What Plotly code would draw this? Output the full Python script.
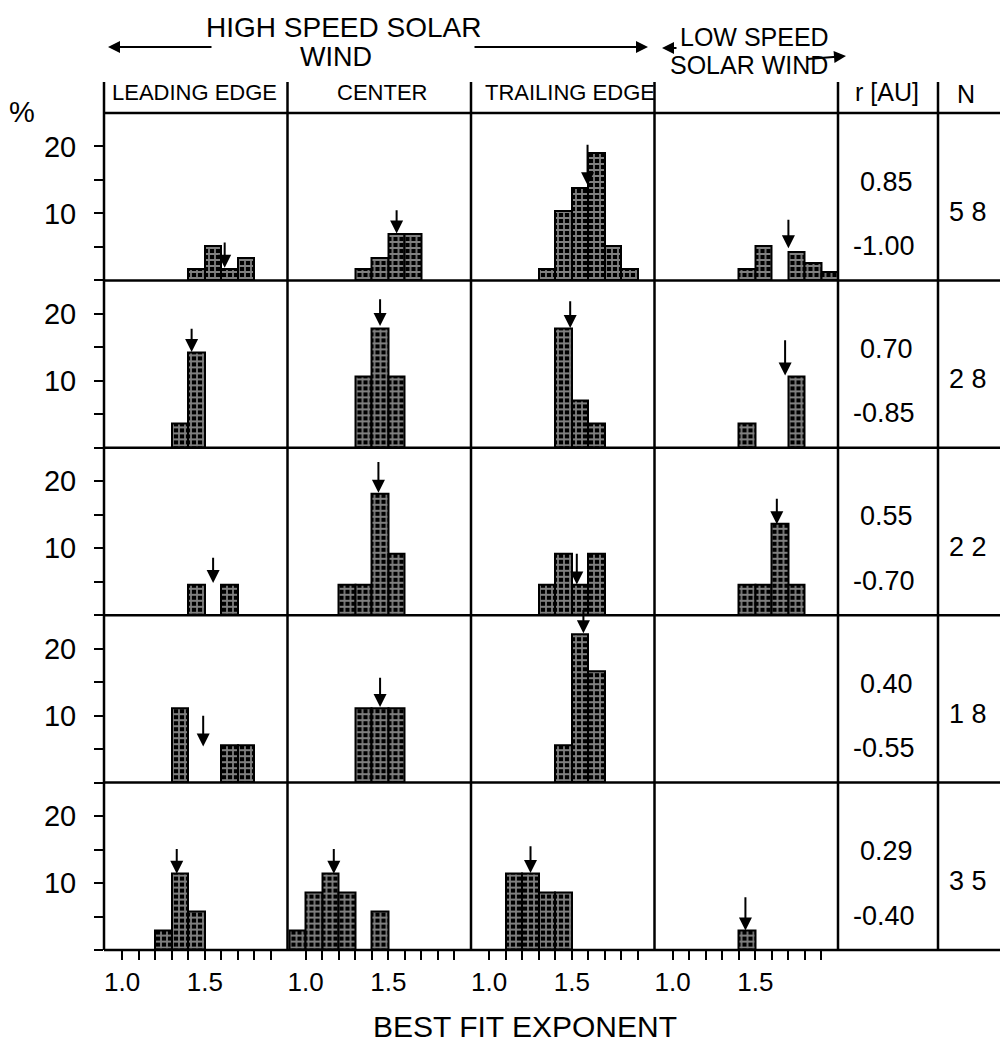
import plotly.graph_objects as go
from plotly.subplots import make_subplots

# ---------------- data ----------------
bin_left = [0.9, 1.0, 1.1, 1.2, 1.3, 1.4, 1.5, 1.6, 1.7, 1.8, 1.9]
bin_width = 0.1

column_names = ["LEADING EDGE", "CENTER", "TRAILING EDGE", ""]
r_upper = ["0.85", "0.70", "0.55", "0.40", "0.29"]
r_lower = ["-1.00", "-0.85", "-0.70", "-0.55", "-0.40"]
n_events = [58, 28, 22, 18, 35]

# percentage of cases per exponent bin
pct_r1_leading = [0, 0, 0, 0, 0, 1.7, 5.2, 1.7, 3.4, 0, 0]
pct_r1_center = [0, 0, 0, 0, 1.7, 3.4, 6.9, 6.9, 0, 0, 0]
pct_r1_trailing = [0, 0, 0, 0, 1.7, 10.3, 13.8, 19.0, 5.2, 1.7, 0]
pct_r1_low = [0, 0, 0, 0, 0, 1.7, 5.2, 0, 4.3, 2.6, 1.2]

pct_r2_leading = [0, 0, 0, 0, 3.6, 14.3, 0, 0, 0, 0, 0]
pct_r2_center = [0, 0, 0, 0, 10.7, 17.9, 10.7, 0, 0, 0, 0]
pct_r2_trailing = [0, 0, 0, 0, 0, 17.9, 7.1, 3.6, 0, 0, 0]
pct_r2_low = [0, 0, 0, 0, 0, 3.6, 0, 0, 10.7, 0, 0]

pct_r3_leading = [0, 0, 0, 0, 0, 4.5, 0, 4.5, 0, 0, 0]
pct_r3_center = [0, 0, 0, 4.5, 4.5, 18.2, 9.1, 0, 0, 0, 0]
pct_r3_trailing = [0, 0, 0, 0, 4.5, 9.1, 4.5, 9.1, 0, 0, 0]
pct_r3_low = [0, 0, 0, 0, 0, 4.5, 4.5, 13.6, 4.5, 0, 0]

pct_r4_leading = [0, 0, 0, 0, 11.1, 0, 0, 5.6, 5.6, 0, 0]
pct_r4_center = [0, 0, 0, 0, 11.1, 11.1, 11.1, 0, 0, 0, 0]
pct_r4_trailing = [0, 0, 0, 0, 0, 5.6, 22.2, 16.7, 0, 0, 0]
pct_r4_low = [0, 0, 0, 0, 0, 0, 0, 0, 0, 0, 0]

pct_r5_leading = [0, 0, 0, 2.9, 11.4, 5.7, 0, 0, 0, 0, 0]
pct_r5_center = [2.9, 8.6, 11.4, 8.6, 0, 5.7, 0, 0, 0, 0, 0]
pct_r5_trailing = [0, 0, 11.4, 11.4, 8.6, 8.6, 0, 0, 0, 0, 0]
pct_r5_low = [0, 0, 0, 0, 0, 2.9, 0, 0, 0, 0, 0]

# mean exponent arrows: x position, tip height, tail height (%)
arrow_x = [[1.62, 1.55, 1.595, 1.70],
           [1.42, 1.45, 1.49, 1.68],
           [1.55, 1.44, 1.53, 1.63],
           [1.49, 1.45, 1.57, None],
           [1.33, 1.17, 1.25, 1.44]]
arrow_tip = [[1.9, 7.0, 14.2, 4.8],
             [14.3, 18.2, 17.9, 10.8],
             [4.8, 18.3, 4.6, 13.6],
             [5.4, 11.3, 22.3, None],
             [11.4, 11.4, 11.5, 2.9]]
arrow_tail = [[5.9, 10.7, 20.5, 9.3],
              [18.0, 22.4, 22.1, 16.3],
              [8.8, 23.1, 9.4, 17.6],
              [10.2, 15.9, 26.0, None],
              [15.3, 15.3, 15.7, 8.1]]

x_tickvals = [1.0, 1.1, 1.2, 1.3, 1.4, 1.5, 1.6, 1.7, 1.8, 1.9]
x_ticktext = ["1.0", "", "", "", "", "1.5", "", "", "", ""]
y_tickvals = [0, 5, 10, 15, 20]
y_ticktext = ["", "", "10", "", "20"]

rows_data = [
    [pct_r1_leading, pct_r1_center, pct_r1_trailing, pct_r1_low],
    [pct_r2_leading, pct_r2_center, pct_r2_trailing, pct_r2_low],
    [pct_r3_leading, pct_r3_center, pct_r3_trailing, pct_r3_low],
    [pct_r4_leading, pct_r4_center, pct_r4_trailing, pct_r4_low],
    [pct_r5_leading, pct_r5_center, pct_r5_trailing, pct_r5_low],
]

# ---------------- figure ----------------
FONT = "Liberation Sans, Arial, sans-serif"
W, H = 1000, 1049
ML, MR, MT, MB = 104, 162, 113, 99
PW = W - ML - MR
PH = H - MT - MB


def px_x(px):
    return (px - ML) / PW


def px_y(py):
    return (H - MB - py) / PH


fig = make_subplots(rows=5, cols=4, horizontal_spacing=0, vertical_spacing=0)

for i in range(5):
    for j in range(4):
        vals = rows_data[i][j]
        xs = [b + bin_width / 2 for b, v in zip(bin_left, vals) if v > 0]
        ys = [v for v in vals if v > 0]
        fig.add_trace(
            go.Bar(
                x=xs, y=ys, width=bin_width,
                marker=dict(
                    color="black",
                    line=dict(color="black", width=2),
                    pattern=dict(shape="+", fgcolor="white", bgcolor="black",
                                 size=6, solidity=0.5),
                ),
                hoverinfo="skip",
            ),
            row=i + 1, col=j + 1,
        )
        idx = i * 4 + j + 1
        sfx = "" if idx == 1 else str(idx)
        if arrow_x[i][j] is not None:
            fig.add_annotation(
                x=arrow_x[i][j], y=arrow_tip[i][j],
                ax=arrow_x[i][j], ay=arrow_tail[i][j],
                xref="x" + sfx, yref="y" + sfx,
                axref="x" + sfx, ayref="y" + sfx,
                text="", showarrow=True, arrowhead=2, arrowsize=1.3,
                arrowwidth=2, arrowcolor="black",
            )

fig.update_xaxes(range=[0.89, 2.0], showgrid=False, zeroline=False,
                 showline=False, showticklabels=False, ticks="", fixedrange=True)
fig.update_yaxes(range=[0, 25], showgrid=False, zeroline=False,
                 showline=False, showticklabels=False, ticks="", fixedrange=True)
fig.update_xaxes(row=5, tickvals=x_tickvals, ticktext=x_ticktext,
                 ticks="outside", ticklen=9, tickwidth=2, tickcolor="black",
                 showticklabels=True,
                 tickfont=dict(family=FONT, size=26, color="black"))
fig.update_yaxes(col=1, tickvals=y_tickvals, ticktext=y_ticktext,
                 ticks="outside", ticklen=9, tickwidth=2, tickcolor="black",
                 showticklabels=True, ticklabelstandoff=12,
                 tickfont=dict(family=FONT, size=29, color="black"))

# ---------------- table lines ----------------
LW = 2.5
shapes = []
x_right = px_x(1000)
for k in range(6):
    yv = k / 5
    shapes.append(dict(type="line", xref="paper", yref="paper",
                       x0=0, x1=x_right, y0=yv, y1=yv,
                       line=dict(color="black", width=LW)))
top_y = px_y(82)
for xv in [0, 0.25, 0.5, 0.75, 1.0, px_x(938)]:
    shapes.append(dict(type="line", xref="paper", yref="paper",
                       x0=xv, x1=xv, y0=0, y1=top_y,
                       line=dict(color="black", width=LW)))
fig.update_layout(shapes=shapes)

# ---------------- text ----------------
def txt(x, y, s, size, **kw):
    fig.add_annotation(x=x, y=y, xref="paper", yref="paper", text=s,
                       showarrow=False, font=dict(family=FONT, size=size,
                                                  color="black"),
                       xanchor=kw.get("xanchor", "center"),
                       yanchor=kw.get("yanchor", "middle"))

txt(px_x(343), px_y(28), "HIGH SPEED SOLAR", 28)
txt(px_x(336), px_y(57), "WIND", 27)
txt(px_x(754), px_y(37), "LOW SPEED", 25)
txt(px_x(749), px_y(65), "SOLAR WIND", 25)

header_px = [194, 382, 570]
for name, cx in zip(column_names[:3], header_px):
    txt(px_x(cx), px_y(92), name, 22)
txt(px_x(887), px_y(92), "r [AU]", 25)
txt(px_x(966), px_y(94), "N", 25)
txt(px_x(22), px_y(112), "%", 29)
txt(px_x(525), px_y(1026), "BEST FIT EXPONENT", 30)

row_h = 1 / 5
for i in range(5):
    y_top = 1 - i * row_h
    txt(px_x(886), y_top - row_h * 0.41, r_upper[i], 27)
    txt(px_x(884), y_top - row_h * 0.795, r_lower[i], 27)
    txt(px_x(968), y_top - row_h * 0.59, " ".join(str(n_events[i])), 27)

# big direction arrows
def arrow(tip_px, tip_py, dx, dy, width=2):
    fig.add_annotation(x=px_x(tip_px), y=px_y(tip_py), xref="paper",
                       yref="paper", text="", showarrow=True, arrowhead=2,
                       arrowsize=1.2, arrowwidth=width, arrowcolor="black",
                       ax=dx, ay=dy)

arrow(108, 47, 105, 0)
arrow(648, 47, -175, 0)
arrow(662, 48, 16, 0)
arrow(846, 56, -40, 3)

fig.update_layout(
    width=W, height=H,
    margin=dict(l=ML, r=MR, t=MT, b=MB),
    paper_bgcolor="white", plot_bgcolor="white",
    showlegend=False, bargap=0,
    font=dict(family=FONT, color="black"),
)

fig.write_html("out.html")
